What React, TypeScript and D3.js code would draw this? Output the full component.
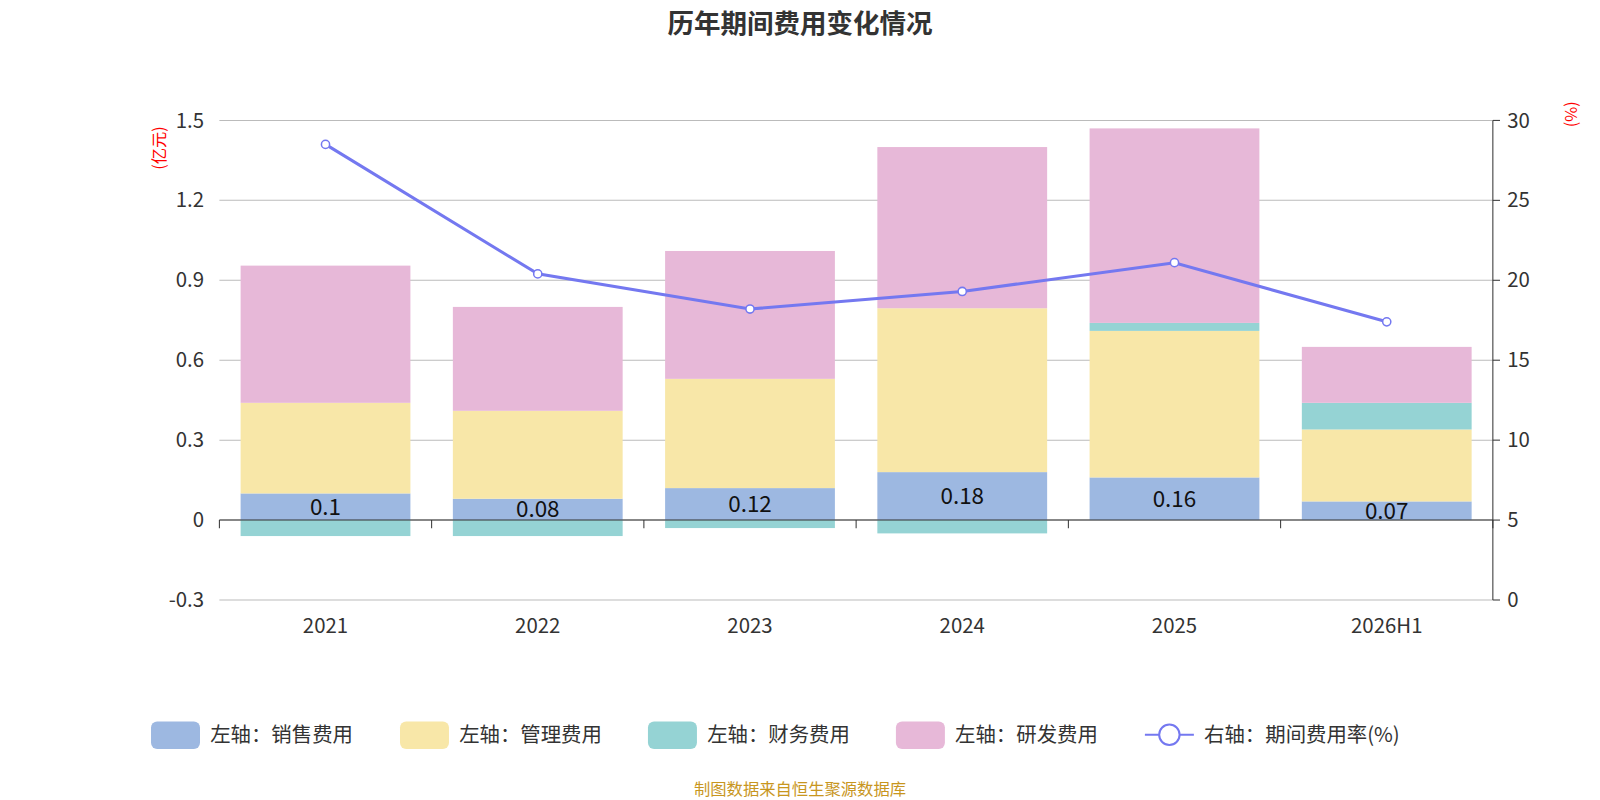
import * as d3 from "d3"

const years = ["2021", "2022", "2023", "2024", "2025", "2026H1"]
const sales = [0.1, 0.08, 0.12, 0.18, 0.16, 0.07]
const admin = [0.34, 0.33, 0.41, 0.615, 0.55, 0.27]
const finance = [-0.06, -0.06, -0.03, -0.05, 0.03, 0.1]
const rnd = [0.515, 0.39, 0.48, 0.605, 0.73, 0.21]
const rate = [28.5, 20.4, 18.2, 19.3, 21.1, 17.4]
const leftTicks = [-0.3, 0, 0.3, 0.6, 0.9, 1.2, 1.5]
const rightTicks = [0, 5, 10, 15, 20, 25, 30]

const series = [
  { name: "左轴：销售费用", values: sales, color: "#9db8e1" },
  { name: "左轴：管理费用", values: admin, color: "#f8e7a8" },
  { name: "左轴：财务费用", values: finance, color: "#95d3d4" },
  { name: "左轴：研发费用", values: rnd, color: "#e7b8d8" },
]
const font = "'Noto Sans CJK SC', 'Noto Sans', sans-serif"

export default function App() {
  const L = 215, R = 1463
  const x = d3.scaleBand().domain(years).range([L, R]).paddingInner(0.2).paddingOuter(0.1)
  const xs = d3.scaleBand().domain(years).range([L, R])
  const y = d3.scaleLinear().domain([-0.3, 1.5]).range([588, 118])
  const y2 = d3.scaleLinear().domain([0, 30]).range([588, 118])

  const rects: any[] = []
  years.forEach((yr, i) => {
    let pos = 0, neg = 0
    series.forEach((s, k) => {
      const v = s.values[i]
      let a, b
      if (v >= 0) { a = pos; b = pos + v; pos = b } else { a = neg + v; b = neg; neg = a }
      rects.push(<rect key={`${k}-${i}`} x={x(yr)} width={x.bandwidth()} y={y(b)} height={y(a) - y(b)} fill={s.color} />)
    })
  })
  const line = d3.line<number>().x((_, i) => xs(years[i])! + xs.bandwidth() / 2).y(d => y2(d))

  return (
    <svg width={1600} height={800} style={{ fontFamily: font, display: "block", position: "absolute", left: 0, top: 0 }}>
      <g transform={`scale(${1 / 0.98})`}>
        <text x={784} y={32} textAnchor="middle" fontSize={26} fontWeight="bold" fill="#333">历年期间费用变化情况</text>
        {leftTicks.map(t => (
          <g key={t}>
            <line x1={L} x2={R} y1={y(t)} y2={y(t)} stroke="#bbb" />
            <text x={200} y={y(t)} dy="0.35em" textAnchor="end" fontSize={20} fill="#333">{t}</text>
          </g>
        ))}
        {rightTicks.map(t => (
          <g key={t}>
            <line x1={R} x2={R + 7} y1={y2(t)} y2={y2(t)} stroke="#333" />
            <text x={R + 14} y={y2(t)} dy="0.35em" fontSize={20} fill="#333">{t}</text>
          </g>
        ))}
        <line x1={R} x2={R} y1={118} y2={588} stroke="#333" />
        <text transform="translate(162,145) rotate(-90)" textAnchor="middle" fontSize={16} fill="red">(亿元)</text>
        <text transform="translate(1545,112) rotate(-90)" textAnchor="middle" fontSize={16} fill="red">(%)</text>
        {rects}
        <line x1={L} x2={R} y1={y(0)} y2={y(0)} stroke="#333" />
        {years.map((yr, i) => (
          <g key={yr}>
            <line x1={xs(yr)!} x2={xs(yr)!} y1={y(0)} y2={y(0) + 8} stroke="#333" />
            <text x={xs(yr)! + xs.bandwidth() / 2} y={620} textAnchor="middle" fontSize={20} fill="#333">{yr}</text>
            <text x={x(yr)! + x.bandwidth() / 2} y={y(sales[i] / 2)} dy="0.35em" textAnchor="middle" fontSize={22} fill="#111">{sales[i]}</text>
          </g>
        ))}
        <line x1={R} x2={R} y1={y(0)} y2={y(0) + 8} stroke="#333" />
        <path d={line(rate)!} fill="none" stroke="#7478f0" strokeWidth={3} />
        {rate.map((r, i) => (
          <circle key={i} cx={xs(years[i])! + xs.bandwidth() / 2} cy={y2(r)} r={4} fill="#fff" stroke="#7478f0" strokeWidth={1.5} />
        ))}
        <g fontSize={20} fill="#333">
          {series.map((s, k) => {
            const lx = [148, 392, 635, 878][k]
            return (
              <g key={s.name}>
                <rect x={lx} y={707} width={48} height={27} rx={6} fill={s.color} />
                <text x={lx + 58} y={720} dy="0.35em">{s.name}</text>
              </g>
            )
          })}
          <line x1={1122} x2={1170} y1={720} y2={720} stroke="#7478f0" strokeWidth={2} />
          <circle cx={1146} cy={720} r={10} fill="#fff" stroke="#7478f0" strokeWidth={2} />
          <text x={1180} y={720} dy="0.35em">右轴：期间费用率(%)</text>
        </g>
        <text x={784} y={779} textAnchor="middle" fontSize={16} fill="#c8961e">制图数据来自恒生聚源数据库</text>
      </g>
    </svg>
  )
}
